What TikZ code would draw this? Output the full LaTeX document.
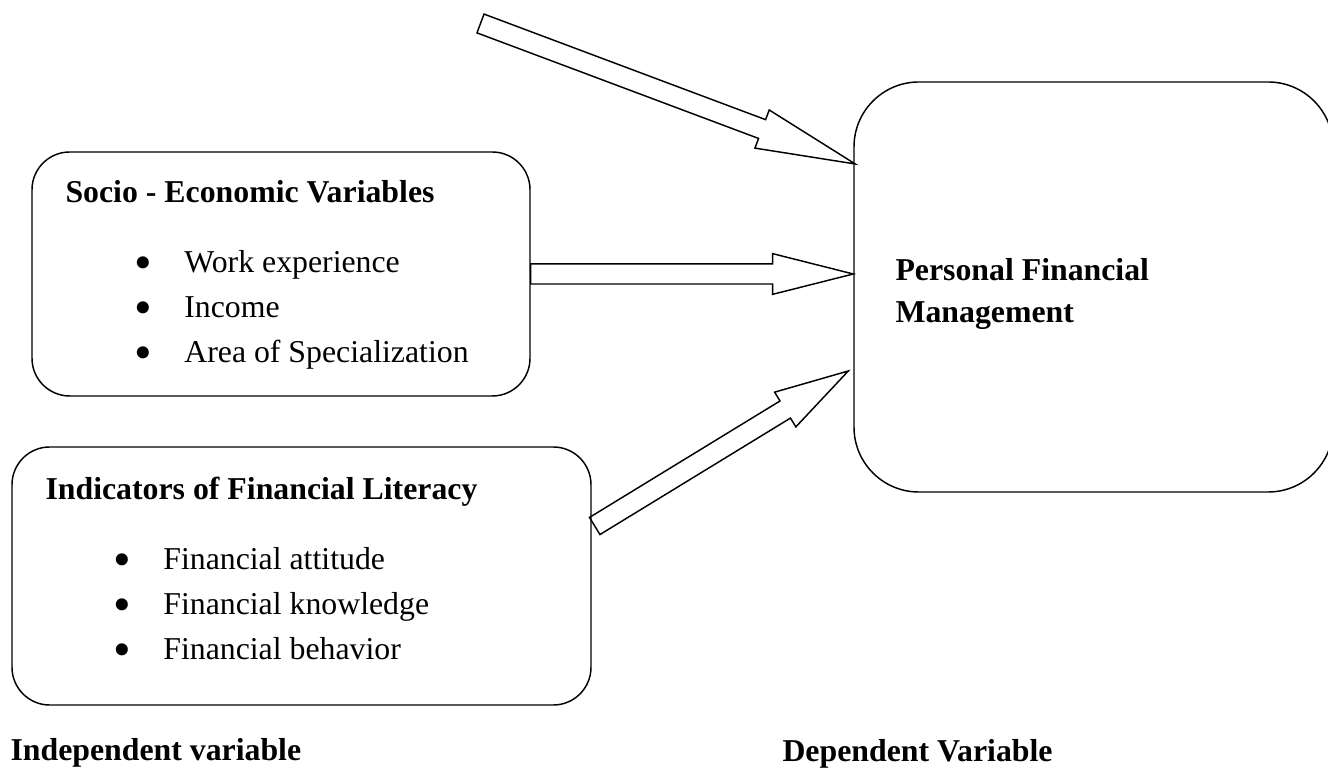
\documentclass[tikz,border=0pt]{standalone}
\usepackage{fontspec}
\setmainfont{Liberation Serif}
\usepackage{tikz}
\usetikzlibrary{calc}

\def\shaftw{0.133cm}
\def\headw{0.27cm}
\newcommand{\hollowarrow}[3]{%
	\coordinate (hb) at ($(#2)!#3!(#1)$);
	\draw[blockarrow] ($(#1)!\shaftw!90:(#2)$) -- ($(hb)!\shaftw!90:(#2)$) -- ($(hb)!\headw!90:(#2)$) -- (#2) -- ($(hb)!\headw!-90:(#2)$) -- ($(hb)!\shaftw!-90:(#2)$) -- ($(#1)!\shaftw!-90:(#2)$) -- cycle;}
\newcommand{\bul}{\makebox[18.8pt][l]{\raisebox{-2.4pt}[0pt][0pt]{\fontsize{19pt}{14pt}\selectfont\textbullet}}}

\tikzset{
	box/.style={draw, line width=0.55pt, inner sep=0pt, rounded corners=0.5cm},
	heading/.style={anchor=base west, inner sep=0pt, font=\fontsize{12pt}{14pt}\selectfont\bfseries},
	item/.style={anchor=base west, inner sep=0pt, font=\fontsize{12pt}{14pt}\selectfont},
	blockarrow/.style={line width=0.55pt, line join=miter}
}

\begin{document}
\begin{tikzpicture}[x=0.13263cm, y=-0.13263cm]
	%%%%% FRAME %%%%%
	\useasboundingbox (0,0) rectangle (132.8,76.8);
	\clip (0,0) rectangle (132.8,76.8);
	
	%%%%% BOXES %%%%%
	\node[box, minimum width=6.605cm, minimum height=3.236cm] (socio) at (28.1,27.4) {};
	\node[box, minimum width=7.679cm, minimum height=3.422cm] (ifl) at (30.15,57.6) {};
	\node[box, rounded corners=0.86cm, minimum width=6.353cm, minimum height=5.438cm] (pfm) at (109.35,28.7) {};
	
	%%%%% TEXT %%%%%
	\node[heading] (sociohead) at (6.5,20.3) {Socio - Economic Variables};
	\foreach \txt [count=\i] in {Work experience, Income, Area of Specialization}
		\node[item] (socioitem\i) at (13.4,22.8+4.5*\i) {\bul\txt};
	
	\node[heading] (iflhead) at (4.5,50.0) {Indicators of Financial Literacy};
	\foreach \txt [count=\i] in {Financial attitude, Financial knowledge, Financial behavior}
		\node[item] (iflitem\i) at (11.3,52.5+4.5*\i) {\bul\txt};
	
	\node[heading] (pfmhead1) at (89.5,28.1) {Personal Financial};
	\node[heading] (pfmhead2) at (89.5,32.3) {Management};
	
	\node[heading] (indep) at (1.0,76.1) {Independent variable};
	\node[heading] (dep) at (78.2,76.2) {Dependent Variable};
	
	%%%%% ARROWS %%%%%
	\coordinate (tailA) at (48.05,2.35);
	\coordinate (tipA) at ($(pfm.west)+(0.2,-12.3)$);
	\coordinate (tipB) at (pfm.west |- socio.east);
	\coordinate (tailC) at ($(ifl.east)+(0.3,-5.0)$);
	\coordinate (tipC) at ($(pfm.west)+(-0.5,8.4)$);
	
	\hollowarrow{tailA}{tipA}{1.32cm}
	\hollowarrow{socio.east}{tipB}{1.07cm}
	\hollowarrow{tailC}{tipC}{0.98cm}
\end{tikzpicture}
\end{document}
